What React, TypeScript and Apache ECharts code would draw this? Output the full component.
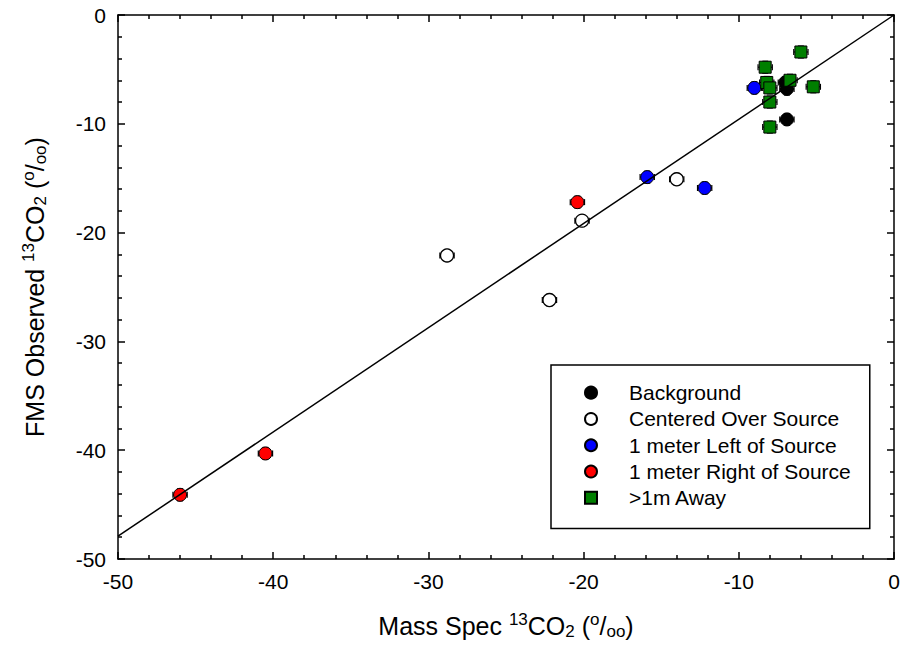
import React, { useEffect, useRef } from "react";
import * as echarts from "echarts";

// ---- data ----
const BACKGROUND: number[][] = [
  [-7.0, -6.2],
  [-6.9, -6.8],
  [-6.9, -9.6],
];
const CENTERED: number[][] = [
  [-28.8, -22.1],
  [-22.2, -26.2],
  [-20.1, -18.9],
  [-14.0, -15.1],
];
const LEFT_1M: number[][] = [
  [-9.0, -6.7],
  [-15.9, -14.9],
  [-12.2, -15.9],
];
const RIGHT_1M: number[][] = [
  [-46.0, -44.1],
  [-40.5, -40.3],
  [-20.4, -17.2],
];
const AWAY: number[][] = [
  [-6.0, -3.4],
  [-8.3, -4.8],
  [-8.2, -6.2],
  [-8.0, -6.7],
  [-6.7, -6.0],
  [-5.2, -6.6],
  [-8.0, -8.0],
  [-8.0, -10.3],
];
const FIT_LINE: number[][] = [
  [-50, -47.9],
  [0, 0],
];
const X_ERR = 0.46;
const Y_ERR = 0.55;
const SERIES_NAMES = [
  "Background",
  "Centered Over Source",
  "1 meter Left of Source",
  "1 meter Right of Source",
  ">1m Away",
];

const FONT = "'Liberation Sans', Arial, sans-serif";

export default function App() {
  const ref = useRef<HTMLDivElement>(null);
  useEffect(() => {
    if (!ref.current) return;
    const chart = echarts.init(ref.current, undefined, { renderer: "svg" });
    const rich = {
      n: { fontSize: 25, fontFamily: FONT, color: "#000" },
      sup: { fontSize: 17, fontFamily: FONT, color: "#000", padding: [0, 0, 13, 0] },
      sub: { fontSize: 17, fontFamily: FONT, color: "#000", padding: [11, 0, 0, 0] },
    };
    const titleText = (pre: string) =>
      `{n|${pre}}{sup|13}{n|CO}{sub|2}{n| (}{sup|o}{n|/}{sub|oo}{n|)}`;
    const axisCommon = {
      min: -50,
      max: 0,
      interval: 10,
      axisLine: { show: true, onZero: false, lineStyle: { color: "#000", width: 1.5 } },
      axisTick: { show: true, inside: true, length: 7, lineStyle: { color: "#000", width: 1.5 } },
      minorTick: { show: true, splitNumber: 5, length: 4, lineStyle: { color: "#000", width: 1.5 } },
      splitLine: { show: false },
      minorSplitLine: { show: false },
    };
    const allPts = [...BACKGROUND, ...CENTERED, ...LEFT_1M, ...RIGHT_1M, ...AWAY];
    const errStyle = { stroke: "#000", lineWidth: 1.2 };
    const scatterBase = {
      type: "scatter",
      symbol: "circle",
      symbolSize: 13,
      z: 3,
    };
    chart.setOption({
      animation: false,
      backgroundColor: "#fff",
      textStyle: { fontFamily: FONT },
      grid: { left: 118, right: 19, top: 15, bottom: 92 },
      xAxis: [
        {
          ...axisCommon,
          type: "value",
          position: "bottom",
          axisLabel: { fontSize: 21, color: "#000", fontFamily: FONT, margin: 12 },
          name: titleText("Mass Spec "),
          nameLocation: "middle",
          nameGap: 52,
          nameTextStyle: { rich },
        },
        {
          ...axisCommon,
          type: "value",
          position: "top",
          axisLabel: { show: false },
        },
      ],
      yAxis: [
        {
          ...axisCommon,
          type: "value",
          position: "left",
          axisLabel: { fontSize: 21, color: "#000", fontFamily: FONT, margin: 12 },
          name: titleText("FMS Observed "),
          nameLocation: "middle",
          nameGap: 68,
          nameRotate: 90,
          nameTextStyle: { rich },
        },
        {
          ...axisCommon,
          type: "value",
          position: "right",
          axisLabel: { show: false },
        },
      ],
      legend: {
        data: SERIES_NAMES,
        orient: "vertical",
        left: 551,
        top: 365,
        padding: [17, 19, 20, 33],
        itemGap: 5,
        itemWidth: 12,
        itemHeight: 12,
        borderColor: "#000",
        borderWidth: 1.5,
        backgroundColor: "#fff",
        textStyle: { fontSize: 21, lineHeight: 21.3, color: "#000", fontFamily: FONT, padding: [0, 0, 0, 27] },
      },
      series: [
        {
          type: "custom",
          name: "errors",
          z: 2,
          data: allPts,
          encode: { x: 0, y: 1 },
          renderItem: (params: any, api: any) => {
            const x = api.value(0);
            const y = api.value(1);
            const c = api.coord([x, y]);
            const l = api.coord([x - X_ERR, y]);
            const r = api.coord([x + X_ERR, y]);
            const t = api.coord([x, y + Y_ERR]);
            const b = api.coord([x, y - Y_ERR]);
            const cap = 3;
            const ln = (x1: number, y1: number, x2: number, y2: number) => ({
              type: "line",
              shape: { x1, y1, x2, y2 },
              style: errStyle,
            });
            return {
              type: "group",
              children: [
                ln(l[0], c[1], r[0], c[1]),
                ln(l[0], c[1] - cap, l[0], c[1] + cap),
                ln(r[0], c[1] - cap, r[0], c[1] + cap),
                ln(c[0], t[1], c[0], b[1]),
                ln(c[0] - cap, t[1], c[0] + cap, t[1]),
                ln(c[0] - cap, b[1], c[0] + cap, b[1]),
              ],
            };
          },
        },
        {
          ...scatterBase,
          name: SERIES_NAMES[0],
          data: BACKGROUND,
          itemStyle: { color: "#000", borderColor: "#000", borderWidth: 1, opacity: 1 },
        },
        {
          ...scatterBase,
          name: SERIES_NAMES[1],
          data: CENTERED,
          itemStyle: { color: "#fff", borderColor: "#000", borderWidth: 1.3, opacity: 1 },
        },
        {
          ...scatterBase,
          name: SERIES_NAMES[2],
          data: LEFT_1M,
          itemStyle: { color: "#0000ff", borderColor: "#000", borderWidth: 1, opacity: 1 },
        },
        {
          ...scatterBase,
          name: SERIES_NAMES[3],
          data: RIGHT_1M,
          itemStyle: { color: "#ff0000", borderColor: "#000", borderWidth: 1, opacity: 1 },
        },
        {
          ...scatterBase,
          name: SERIES_NAMES[4],
          symbol: "rect",
          symbolSize: 12,
          data: AWAY,
          itemStyle: { color: "#007f00", borderColor: "#000", borderWidth: 1, opacity: 1 },
        },
        {
          type: "line",
          name: "fit",
          data: FIT_LINE,
          symbol: "none",
          z: 4,
          lineStyle: { color: "#000", width: 1.5 },
        },
      ],
    });
    return () => chart.dispose();
  }, []);
  return (
    <div
      ref={ref}
      style={{ position: "fixed", left: 0, top: 0, width: 913, height: 651 }}
    />
  );
}
